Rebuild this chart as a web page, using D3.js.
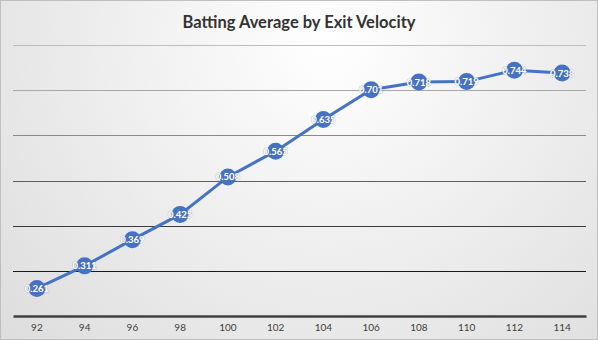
<!DOCTYPE html>
<html>
<head>
<meta charset="utf-8">
<style>
  html, body { margin: 0; padding: 0; background: #fff; }
  #container { width: 598px; height: 340px; }
</style>
</head>
<body>
<div id="container"></div>
<script src="https://cdn.jsdelivr.net/npm/d3@7/dist/d3.min.js"></script>
<script>

// chart size and margins
const width = 598;
const height = 340;
const marginTop = 45;
const marginRight = 12;
const marginBottom = 24;
const marginLeft = 13;

// exit velocity (mph) and batting average
const velocities = ["92", "94", "96", "98", "100", "102", "104", "106", "108", "110", "112", "114"];
const averages = [0.261, 0.311, 0.369, 0.425, 0.508, 0.565, 0.635, 0.701, 0.718, 0.719, 0.744, 0.738];
const gridValues = [0.3, 0.4, 0.5, 0.6, 0.7, 0.8];
const gridColors = ["#1a1a1a", "#3a3a3a", "#5e5e5e", "#8a8a8a", "#a6a6a6", "#bdbdbd"];

const x = d3.scaleBand()
    .domain(velocities)
    .range([marginLeft, width - marginRight]);

const y = d3.scaleLinear()
    .domain([0.2, 0.8])
    .range([height - marginBottom, marginTop]);

const svg = d3.create("svg")
    .attr("width", width)
    .attr("height", height)
    .attr("font-family", "Lato, 'Open Sans', sans-serif");

// soft radial background
const defs = svg.append("defs");
const grad = defs.append("radialGradient")
    .attr("id", "bg")
    .attr("gradientUnits", "userSpaceOnUse")
    .attr("cx", width * 0.55).attr("cy", 40)
    .attr("r", 560);
grad.append("stop").attr("offset", "0%").attr("stop-color", "#ffffff");
grad.append("stop").attr("offset", "100%").attr("stop-color", "#d4d4d4");

svg.append("rect")
    .attr("x", 0.5).attr("y", 0.5)
    .attr("width", width - 1).attr("height", height - 1)
    .attr("fill", "url(#bg)")
    .attr("stroke", "#bfbfbf");

// title
svg.append("text")
    .attr("x", width / 2)
    .attr("y", 28)
    .attr("text-anchor", "middle")
    .attr("font-size", 16.5)
    .attr("font-weight", "bold")
    .attr("fill", "#333")
    .text("Batting Average by Exit Velocity");

// horizontal gridlines
svg.append("g")
  .selectAll("line")
  .data(gridValues)
  .join("line")
    .attr("x1", marginLeft)
    .attr("x2", width - marginRight)
    .attr("y1", d => Math.round(y(d)) + 0.5)
    .attr("y2", d => Math.round(y(d)) + 0.5)
    .attr("stroke", (d, i) => gridColors[i])
    .attr("stroke-width", 1);

// x axis
const xAxis = svg.append("g")
    .attr("transform", `translate(0,${y(0.2)})`)
    .call(d3.axisBottom(x).tickSize(0).tickPadding(8));
xAxis.select(".domain")
    .attr("stroke", "#404040")
    .attr("stroke-width", 2.5);
xAxis.selectAll("text")
    .attr("font-size", 10)
    .attr("font-family", "Lato, 'Open Sans', sans-serif")
    .attr("fill", "#404040");

// the line
const line = d3.line()
    .x((d, i) => x(velocities[i]) + x.bandwidth() / 2)
    .y(d => y(d));

svg.append("path")
    .attr("fill", "none")
    .attr("stroke", "#4472C4")
    .attr("stroke-width", 3)
    .attr("d", line(averages));

// markers
svg.append("g")
  .selectAll("circle")
  .data(averages)
  .join("circle")
    .attr("cx", (d, i) => x(velocities[i]) + x.bandwidth() / 2)
    .attr("cy", d => y(d))
    .attr("r", 8.5)
    .attr("fill", "#4472C4");

// value labels, with a faint outline so they read past the marker edge
svg.append("g")
  .selectAll("text")
  .data(averages)
  .join("text")
    .attr("x", (d, i) => x(velocities[i]) + x.bandwidth() / 2)
    .attr("y", d => y(d) + 3.5)
    .attr("text-anchor", "middle")
    .attr("font-size", 9.5)
    .attr("font-weight", "bold")
    .attr("fill", "#fff")
    .attr("stroke", "#6f7f9f")
    .attr("stroke-opacity", 0.45)
    .attr("stroke-width", 1)
    .attr("paint-order", "stroke")
    .text(d => d3.format(".3f")(d));

container.append(svg.node());
</script>
</body>
</html>
